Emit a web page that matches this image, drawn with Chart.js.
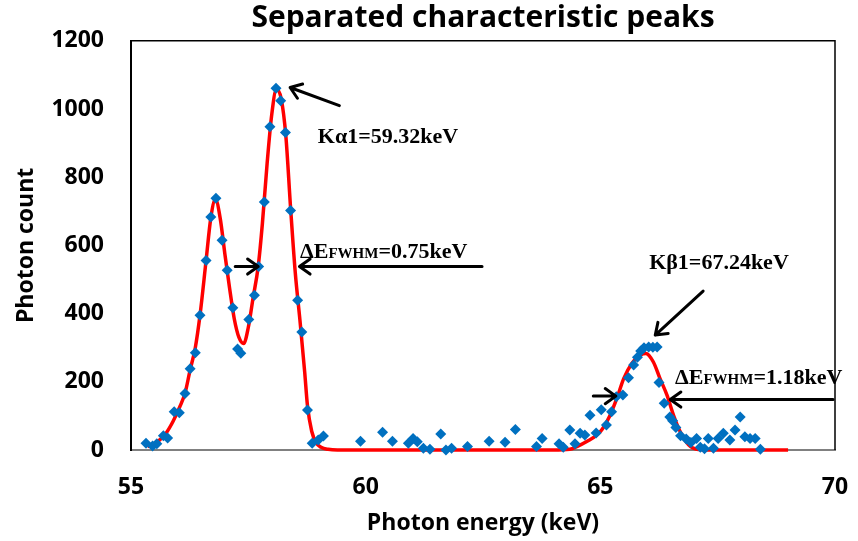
<!DOCTYPE html>
<html>
<head>
<meta charset="utf-8">
<script src="https://cdn.jsdelivr.net/npm/chart.js@4/dist/chart.umd.min.js"></script>
<style>
  html, body { margin: 0; padding: 0; background: #fff; }
</style>
</head>
<body>
<canvas id="chart" width="858" height="541"></canvas>
<script>
// -----------------------
// Data
// -----------------------
const measEnergy = [
  55.32, 55.46, 55.55, 55.69, 55.78, 55.92, 56.03, 56.15, 56.26, 56.37,
  56.47, 56.60, 56.70, 56.81, 56.94, 57.05, 57.17, 57.27, 57.34, 57.51,
  57.63, 57.72, 57.84, 57.96, 58.09, 58.19, 58.29, 58.40, 58.55, 58.64,
  58.76, 58.86, 58.99, 59.10, 59.89, 60.36, 60.57, 60.91, 61.01, 61.10,
  61.23, 61.37, 61.60, 61.71, 61.83, 62.17, 62.63, 62.97, 63.19, 63.64,
  63.76, 64.12, 64.21, 64.35, 64.46, 64.57, 64.67, 64.78, 64.91, 65.02,
  65.13, 65.24, 65.34, 65.48, 65.60, 65.71, 65.79, 65.86, 65.93, 66.03,
  66.12, 66.21, 66.25, 66.36, 66.48, 66.54, 66.61, 66.71, 66.83, 66.93,
  67.05, 67.13, 67.22, 67.30, 67.41, 67.51, 67.62, 67.76, 67.87, 67.98,
  68.08, 68.19, 68.30, 68.41
];
const measCount = [
  20, 12, 18, 42, 35, 112, 109, 166, 238, 285,
  395, 556, 683, 738, 615, 527, 417, 296, 284, 383,
  454, 538, 727, 948, 1061, 1024, 931, 702, 439, 346,
  117, 20, 29, 41, 26, 52, 26, 20, 34, 24,
  5, 2, 47, 0, 5, 10, 26, 23, 60, 10,
  34, 18, 8, 59, 18, 49, 44, 102, 50, 118,
  73, 112, 156, 161, 212, 249, 272, 290, 300, 302,
  301, 302, 198, 137, 97, 86, 66, 42, 32, 22,
  34, 8, 4, 34, 5, 34, 49, 29, 59, 97,
  39, 34, 34, 2
];

const fitEnergy = [
  55.35, 55.45, 55.60, 55.75, 55.90, 56.05, 56.15, 56.26, 56.37, 56.47,
  56.60, 56.70, 56.80, 56.90, 57.00, 57.10, 57.20, 57.30, 57.40, 57.50,
  57.60, 57.71, 57.80, 57.90, 58.00, 58.10, 58.20, 58.30, 58.40, 58.50,
  58.60, 58.70, 58.76, 58.85, 58.95, 59.05, 59.20, 59.40, 64.00, 64.35,
  64.50, 64.70, 65.00, 65.20, 65.35, 65.50, 65.67, 65.85, 65.97, 66.13,
  66.27, 66.42, 66.56, 66.70, 66.88, 67.05, 67.30, 69.00
];
const fitCount = [
  10, 15, 28, 50, 85, 130, 166, 235, 300, 395,
  556, 680, 735, 680, 575, 475, 385, 330, 312, 360,
  445, 538, 665, 840, 985, 1058, 1030, 920, 710, 520,
  380, 230, 130, 55, 20, 8, 2, 0, 0, 2,
  10, 24, 54, 100, 151, 210, 254, 278, 283, 258,
  210, 161, 102, 54, 15, 2, 0, 0
];

const xTickValues = [55, 60, 65, 70];
const yTickValues = [0, 200, 400, 600, 800, 1000, 1200];

// -----------------------
// Annotations (data coordinates)
// -----------------------
const arrowDefs = [
  { from: [59.44, 1010], to: [58.39, 1063] },
  { from: [57.22, 538], to: [57.71, 538] },
  { from: [62.48, 538], to: [58.59, 538] },
  { from: [67.19, 466], to: [66.17, 337] },
  { from: [64.85, 158], to: [65.33, 158] },
  { from: [69.96, 148], to: [66.49, 148] }
];
const noteDefs = [
  { at: [58.98, 922], parts: [['Kα1=59.32keV', 22]] },
  { at: [58.60, 585], parts: [['ΔE', 22], ['FWHM', 15], ['=0.75keV', 22]] },
  { at: [66.04, 550], parts: [['Kβ1=67.24keV', 22]] },
  { at: [66.59, 214], parts: [['ΔE', 22], ['FWHM', 15], ['=1.18keV', 22]] }
];

function drawArrow(ctx, x1, y1, x2, y2) {
  const ang = Math.atan2(y2 - y1, x2 - x1);
  const head = 13, spread = 0.62;
  ctx.beginPath();
  ctx.moveTo(x1, y1);
  ctx.lineTo(x2, y2);
  ctx.moveTo(x2 - head * Math.cos(ang - spread), y2 - head * Math.sin(ang - spread));
  ctx.lineTo(x2, y2);
  ctx.lineTo(x2 - head * Math.cos(ang + spread), y2 - head * Math.sin(ang + spread));
  ctx.stroke();
}

const framePlugin = {
  id: 'frame',
  beforeDatasetsDraw(chart) {
    const { ctx, chartArea: a } = chart;
    ctx.save();
    ctx.strokeStyle = '#000';
    ctx.lineWidth = 1.5;
    ctx.beginPath();
    ctx.moveTo(a.left, a.top);
    ctx.lineTo(a.right, a.top);
    ctx.lineTo(a.right, a.bottom);
    ctx.stroke();
    ctx.restore();
  }
};

const notesPlugin = {
  id: 'notes',
  afterDatasetsDraw(chart) {
    const { ctx, scales: { x, y } } = chart;
    ctx.save();
    ctx.strokeStyle = '#000';
    ctx.lineWidth = 3;
    ctx.lineCap = 'round';
    ctx.lineJoin = 'round';
    arrowDefs.forEach(a => {
      drawArrow(ctx,
        x.getPixelForValue(a.from[0]), y.getPixelForValue(a.from[1]),
        x.getPixelForValue(a.to[0]), y.getPixelForValue(a.to[1]));
    });
    ctx.fillStyle = '#000';
    ctx.textAlign = 'left';
    ctx.textBaseline = 'alphabetic';
    noteDefs.forEach(n => {
      let px = x.getPixelForValue(n.at[0]);
      const base = y.getPixelForValue(n.at[1]) + 7;
      n.parts.forEach(([txt, size]) => {
        ctx.font = `bold ${size}px "Liberation Serif", "Times New Roman", serif`;
        ctx.fillText(txt, px, base);
        px += ctx.measureText(txt).width;
      });
    });
    ctx.restore();
  }
};

// -----------------------
// Chart
// -----------------------
Chart.defaults.font.family = "'Open Sans', sans-serif";
Chart.defaults.color = '#000';

new Chart(document.getElementById('chart'), {
  type: 'scatter',
  data: {
    datasets: [
      {
        label: 'Measured',
        data: measEnergy.map((e, i) => ({ x: e, y: measCount[i] })),
        pointStyle: 'rectRot',
        pointRadius: 5.5,
        backgroundColor: '#0070C0',
        borderColor: '#0070C0',
        borderWidth: 0,
        clip: false,
        order: 1
      },
      {
        type: 'line',
        label: 'Fit',
        data: fitEnergy.map((e, i) => ({ x: e, y: fitCount[i] })),
        borderColor: '#FF0000',
        borderWidth: 3.5,
        pointRadius: 0,
        fill: false,
        cubicInterpolationMode: 'monotone',
        clip: false,
        order: 2
      }
    ]
  },
  options: {
    responsive: false,
    animation: false,
    layout: { padding: { left: 0, right: 23, top: 0, bottom: 0 } },
    plugins: {
      legend: { display: false },
      tooltip: { enabled: false },
      title: {
        display: true,
        fullSize: false,
        text: 'Separated characteristic peaks',
        font: { size: 30, weight: 'bold' },
        padding: { top: 0, bottom: 4 }
      }
    },
    scales: {
      x: {
        type: 'linear',
        min: 55,
        max: 70,
        afterBuildTicks: s => { s.ticks = xTickValues.map(v => ({ value: v })); },
        afterFit: s => { s.height = 91; s.paddingLeft = 0; s.paddingRight = 0; },
        grid: { display: false, drawTicks: false },
        border: { display: true, color: '#808080', width: 2 },
        ticks: { padding: 24, font: { size: 23, weight: 'bold' }, maxRotation: 0 },
        title: {
          display: true,
          text: 'Photon energy (keV)',
          font: { size: 23, weight: 'bold' },
          padding: { top: 0, bottom: 4 }
        }
      },
      y: {
        min: 0,
        max: 1200,
        afterBuildTicks: s => { s.ticks = yTickValues.map(v => ({ value: v })); },
        afterFit: s => { s.width = 131; },
        grid: { display: false, drawTicks: false },
        border: { display: true, color: '#000', width: 2 },
        ticks: { padding: 27, font: { size: 23, weight: 'bold' }, callback: v => String(v) },
        title: {
          display: true,
          text: 'Photon count',
          font: { size: 23, weight: 'bold' },
          padding: { top: 13, bottom: 0 }
        }
      }
    }
  },
  plugins: [framePlugin, notesPlugin]
});
</script>
</body>
</html>
